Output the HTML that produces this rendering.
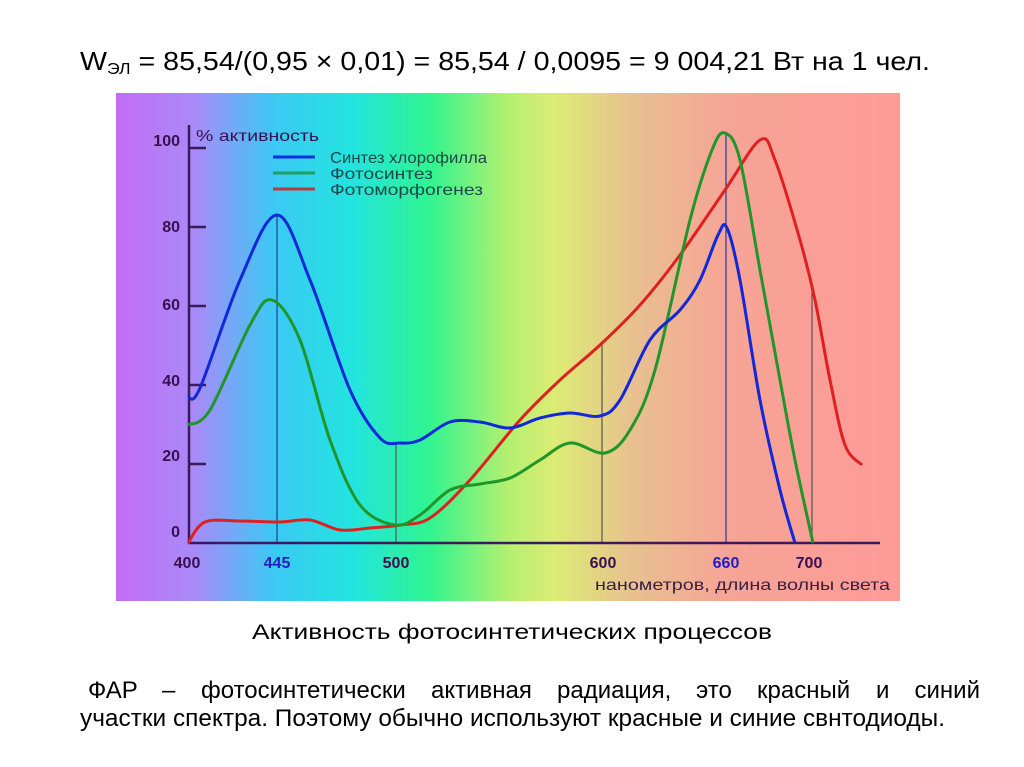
<!DOCTYPE html><html><head><meta charset="utf-8"><style>
body{margin:0;width:1024px;height:767px;background:#fff;font-family:"Liberation Sans",sans-serif;position:relative;overflow:hidden}
svg{position:absolute;left:0;top:0}
</style></head><body>
<svg width="1024" height="767" font-family="Liberation Sans,sans-serif">
<text x="80" y="70" font-size="26" fill="#000" textLength="850" lengthAdjust="spacingAndGlyphs">W<tspan font-size="16" dy="4">ЭЛ</tspan><tspan dy="-4"> = 85,54/(0,95 × 0,01) = 85,54 / 0,0095 = 9 004,21 Вт на 1 чел.</tspan></text>
<defs><linearGradient id="g" x1="0" x2="1">
<stop offset="0" stop-color="#c46cf4"/><stop offset="0.1" stop-color="#a98af8"/><stop offset="0.2" stop-color="#3cc8f4"/><stop offset="0.3" stop-color="#22e4e0"/><stop offset="0.4" stop-color="#30f490"/><stop offset="0.5" stop-color="#b4f070"/><stop offset="0.56" stop-color="#dcec74"/><stop offset="0.66" stop-color="#e8c090"/><stop offset="0.78" stop-color="#f6a496"/><stop offset="1" stop-color="#fe9a98"/></linearGradient></defs>
<rect x="116" y="93" width="784" height="508" fill="url(#g)"/>
<g stroke-width="1.2" fill="none">
<line x1="277" y1="215" x2="277" y2="543" stroke="#2a3a8a"/>
<line x1="396" y1="443" x2="396" y2="543" stroke="#555"/>
<line x1="602" y1="345" x2="602" y2="543" stroke="#555"/>
<line x1="726" y1="133" x2="726" y2="543" stroke="#2a3a8a"/>
<line x1="812" y1="290" x2="812" y2="543" stroke="#555"/>
</g>
<g stroke="#3a1a5a" stroke-width="2.5" fill="none">
<line x1="189" y1="125" x2="189" y2="543"/><line x1="188" y1="543" x2="880" y2="543"/>
<line x1="189" y1="148" x2="206" y2="148"/><line x1="189" y1="227" x2="206" y2="227"/><line x1="189" y1="306" x2="206" y2="306"/><line x1="189" y1="385" x2="206" y2="385"/><line x1="189" y1="464" x2="206" y2="464"/>
</g>
<g font-size="16" fill="#3a1050" text-anchor="end" font-weight="bold">
<text x="180" y="146">100</text><text x="180" y="232">80</text><text x="180" y="310">60</text><text x="180" y="386">40</text><text x="180" y="461">20</text><text x="180" y="537">0</text></g>
<g font-size="16" fill="#3a1050" text-anchor="middle" font-weight="bold">
<text x="187" y="568">400</text><text x="277" y="568" fill="#2020c0">445</text><text x="396" y="568">500</text><text x="603" y="568">600</text><text x="726" y="568" fill="#2020c0">660</text><text x="809" y="568">700</text></g>
<text x="595" y="590" font-size="16" fill="#3a2040" textLength="295" lengthAdjust="spacingAndGlyphs">нанометров, длина волны света</text>
<text x="196" y="141" font-size="16" fill="#3a1050" textLength="123" lengthAdjust="spacingAndGlyphs">% активность</text>
<g stroke-width="3"><line x1="273" y1="157" x2="315" y2="157" stroke="#1030e0"/><line x1="273" y1="173" x2="315" y2="173" stroke="#20a060"/><line x1="273" y1="189" x2="315" y2="189" stroke="#b04040"/></g>
<g font-size="16" fill="#184848"><text x="330" y="163" textLength="157" lengthAdjust="spacingAndGlyphs">Синтез хлорофилла</text><text x="330" y="179" textLength="103" lengthAdjust="spacingAndGlyphs">Фотосинтез</text><text x="330" y="195" textLength="153" lengthAdjust="spacingAndGlyphs">Фотоморфогенез</text></g>
<path id="r" fill="none" stroke="#e02020" stroke-width="3"/>
<path id="gr" fill="none" stroke="#20962a" stroke-width="3"/>
<path id="b" fill="none" stroke="#1028d8" stroke-width="3"/>
<text x="252" y="639" font-size="21" fill="#000" textLength="520" lengthAdjust="spacingAndGlyphs">Активность фотосинтетических процессов</text>
<g font-size="24" fill="#000">
<text x="88" y="698">ФАР</text>
<text x="162" y="698">–</text>
<text x="201" y="698">фотосинтетически</text>
<text x="431" y="698">активная</text>
<text x="557" y="698">радиация,</text>
<text x="696" y="698">это</text>
<text x="757" y="698">красный</text>
<text x="876" y="698">и</text>
<text x="980" y="698" text-anchor="end">синий</text>
<text x="80" y="726" textLength="865" lengthAdjust="spacingAndGlyphs">участки спектра. Поэтому обычно используют красные и синие свнтодиоды.</text>
</g>
</svg>
<script>
function cr(p){let d="M"+p[0];for(let i=0;i<p.length-1;i++){let a=p[i-1]||p[i],b=p[i],c=p[i+1],e=p[i+2]||c;
d+="C"+(b[0]+(c[0]-a[0])/6)+","+(b[1]+(c[1]-a[1])/6)+" "+(c[0]-(e[0]-b[0])/6)+","+(c[1]-(e[1]-b[1])/6)+" "+c[0]+","+c[1];}return d;}
document.getElementById("b").setAttribute("d",cr([[188,397],[200,388],[240,280],[277,215],[310,280],[350,390],[380,438],[400,443],[420,440],[450,422],[480,422],[510,428],[540,418],[570,413],[600,416],[620,400],[650,340],[680,310],[700,280],[718,235],[727,228],[740,280],[760,400],[780,490],[795,543]]));
document.getElementById("gr").setAttribute("d",cr([[188,425],[210,410],[250,325],[272,300],[300,340],[330,440],[360,505],[395,525],[420,515],[450,490],[480,484],[510,478],[540,460],[570,443],[605,453],[630,430],[655,370],[690,220],[712,150],[725,133],[740,160],[760,270],[780,380],[795,460],[813,543]]));
document.getElementById("r").setAttribute("d",cr([[188,543],[205,522],[240,521],[280,522],[310,520],[340,530],[370,528],[400,525],[430,518],[470,480],[520,420],[560,380],[600,345],[640,305],[680,255],[725,190],[760,140],[775,160],[800,240],[815,300],[830,380],[845,445],[862,465]]));
</script>
</body></html>
